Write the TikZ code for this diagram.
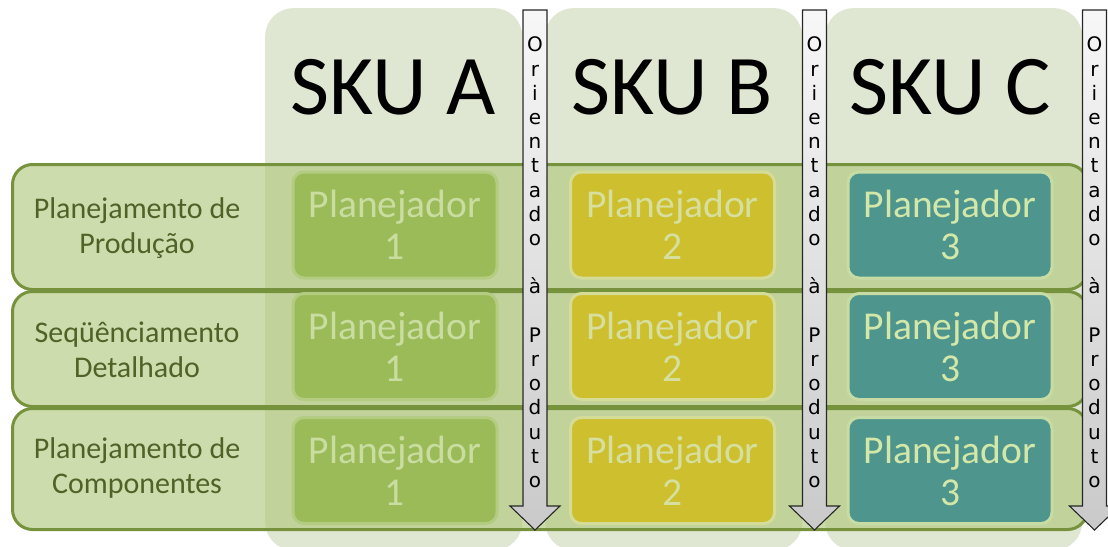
\documentclass[tikz,border=0pt]{standalone}
\usepackage{fontspec}
\setmainfont{Carlito}
\newfontfamily\arrowfont{DejaVu Sans}
\definecolor{colbg}{HTML}{DFE7D2}
\definecolor{rowfill}{HTML}{B1C87D}
\definecolor{rowline}{HTML}{76923C}
\definecolor{labtext}{HTML}{4F6228}
\definecolor{boxA}{HTML}{9BBB59}
\definecolor{boxB}{HTML}{CDBF2E}
\definecolor{boxC}{HTML}{4E958D}
\definecolor{edgeA}{HTML}{B3CC82}
\definecolor{edgeB}{HTML}{D5DC98}
\definecolor{edgeC}{HTML}{C6DCA4}
\definecolor{txtA}{HTML}{C9DDA1}
\definecolor{txtB}{HTML}{D6DF9D}
\definecolor{txtC}{HTML}{D3E7A9}
\begin{document}
\begin{tikzpicture}[x=1pt,y=-1pt,
  colbox/.style={fill=colbg, draw=none, rounded corners=28pt, minimum width=257pt, minimum height=542pt, anchor=north west, inner sep=0pt},
  rowband/.style={fill=rowfill, fill opacity=0.64, draw=rowline, line width=3pt, rounded corners=20pt, minimum width=1075pt, anchor=north west, inner sep=0pt},
  rowlabel/.style={text=labtext, font=\fontsize{30}{35}\selectfont, align=center, inner sep=0pt},
  plan/.style={rounded corners=11pt, line width=3pt, minimum width=204pt, minimum height=106pt, font=\fontsize{39.5}{42}\selectfont, align=center, inner sep=0pt},
  planA/.style={plan, fill=boxA, draw=edgeA, text=txtA},
  planB/.style={plan, fill=boxB, draw=edgeB, text=txtB},
  planC/.style={plan, fill=boxC, draw=edgeC, text=txtC},
  sku/.style={font=\fontsize{85}{85}\selectfont, anchor=base, inner sep=0pt},
  arrowtxt/.style={font=\arrowfont\fontsize{20}{24.2}\selectfont, align=center, inner sep=0pt},
  prodarrow/.style={draw=black!85, line width=1.1pt, top color=gray!6, bottom color=gray!42, line join=miter},
]
\useasboundingbox (0,0) rectangle (1108,546);

% SKU columns
\node[colbox] (colA) at (265,8) {};
\node[colbox] (colB) at (545,8) {};
\node[colbox] (colC) at (825,8) {};

% rows
\node[rowband, minimum height=125pt] (row1) at (11,163) {};
\node[rowband, minimum height=115pt] (row2) at (11,290) {};
\node[rowband, minimum height=121pt] (row3) at (11,407) {};

% planner boxes
\node[planA] (a1) at (395,225) {Planejador\\1};
\node[planA] (a2) at (395,346.5) {Planejador\\1};
\node[planA] (a3) at (395,470.5) {Planejador\\1};
\node[planB] (b1) at (672.5,225) {Planejador\\2};
\node[planB] (b2) at (672.5,346.5) {Planejador\\2};
\node[planB] (b3) at (672.5,470.5) {Planejador\\2};
\node[planC] (c1) at (950,225) {Planejador\\3};
\node[planC] (c2) at (950,346.5) {Planejador\\3};
\node[planC] (c3) at (950,470.5) {Planejador\\3};

% SKU titles
\node[sku] (skuA) at (393,114) {SKU A};
\node[sku] (skuB) at (672,114) {SKU B};
\node[sku] (skuC) at (950,114) {SKU C};

% row labels
\node[rowlabel] (l1) at (137,228) {Planejamento de\\Produção};
\node[rowlabel] (l2) at (137,350) {Seqüênciamento\\Detalhado};
\node[rowlabel] (l3) at (137,468) {Planejamento de\\Componentes};

% product-oriented arrows
\foreach \cx/\nm in {535/arrA, 814.5/arrB, 1094.5/arrC}{
  \draw[prodarrow] (\cx-12,10) -- (\cx+12,10) -- (\cx+12,506) -- (\cx+25,506)
    -- (\cx,530) -- (\cx-25,506) -- (\cx-12,506) -- cycle;
  \node[arrowtxt] (\nm) at (\cx,262.5)
    {O\\r\\i\\e\\n\\t\\a\\d\\o\\[24.2pt]à\\[24.2pt]P\\r\\o\\d\\u\\t\\o};
}
\end{tikzpicture}
\end{document}
